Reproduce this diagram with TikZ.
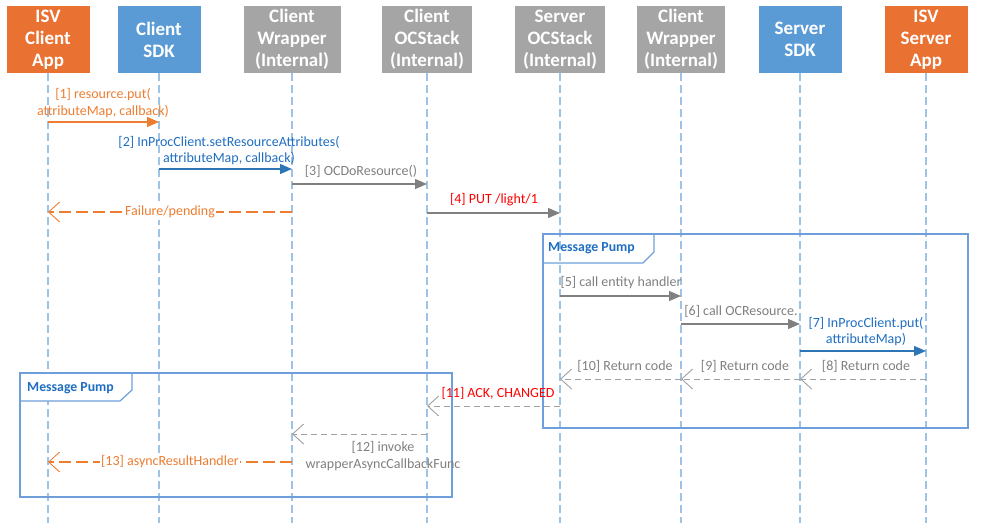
\documentclass[tikz,border=0pt]{standalone}
\usepackage{fontspec}
\setmainfont{Carlito}
\usetikzlibrary{arrows.meta}
\definecolor{boxorange}{HTML}{E97132}
\definecolor{boxblue}{HTML}{5B9BD5}
\definecolor{boxgray}{HTML}{A5A5A5}
\definecolor{txtorange}{HTML}{ED7D31}
\definecolor{txtblue}{HTML}{1F6EC1}
\definecolor{txtgray}{HTML}{7F7F7F}
\definecolor{txtred}{HTML}{FF0000}
\definecolor{lnblue}{HTML}{2E75B6}
\definecolor{lngray}{HTML}{808080}
\definecolor{lnret}{HTML}{A0A0A0}
\definecolor{lifeblue}{HTML}{9DC3E6}
\definecolor{frameblue}{HTML}{6E9FDA}
\tikzset{
  hdr/.style={draw=none, text=white, align=center, minimum height=67pt,
    inner sep=0pt, font=\bfseries\fontsize{19}{22}\selectfont},
  life/.style={draw=lifeblue, line width=1.2pt, dash pattern=on 8pt off 4pt},
  lbl/.style={align=center, inner sep=0pt, font=\fontsize{14}{16.5}\selectfont},
  msg/.style={line width=1.2pt, -{Triangle[length=12pt,width=10pt]}},
  ret/.style={line width=1pt, dash pattern=on 6pt off 4pt,
    -{Straight Barb[length=11pt,width=20pt,line width=0.9pt]}},
  retO/.style={line width=1.4pt, dash pattern=on 12pt off 5pt,
    -{Straight Barb[length=11pt,width=20pt,line width=0.9pt,sep=0pt]}},
  frm/.style={draw=frameblue, line width=1.2pt},
  frmtxt/.style={anchor=west, inner sep=0pt, text=txtblue,
    font=\bfseries\fontsize{13.8}{15}\selectfont}
}
\begin{document}
\begin{tikzpicture}[x=1pt,y=-1pt]
\useasboundingbox (0,0) rectangle (984,532);
% header boxes
\node[hdr, fill=boxorange, minimum width=83pt] (h1) at (48,39.5) {ISV\\Client\\App};
\node[hdr, fill=boxblue,   minimum width=83pt] (h2) at (159,39.5) {Client\\SDK};
\node[hdr, fill=boxgray,   minimum width=97pt] (h3) at (292,39.5) {Client\\Wrapper\\(Internal)};
\node[hdr, fill=boxgray,   minimum width=90pt] (h4) at (427,39.5) {Client\\OCStack\\(Internal)};
\node[hdr, fill=boxgray,   minimum width=90pt] (h5) at (560,39.5) {Server\\OCStack\\(Internal)};
\node[hdr, fill=boxgray,   minimum width=88pt] (h6) at (681,39.5) {Client\\Wrapper\\(Internal)};
\node[hdr, fill=boxblue,   minimum width=83pt] (h7) at (800,39.5) {Server\\SDK};
\node[hdr, fill=boxorange, minimum width=83pt] (h8) at (926,39.5) {ISV\\Server\\App};
% lifelines
\foreach \i in {1,...,8} {
  \coordinate (e\i) at (h\i.south |- 0,523);
  \draw[life] (h\i.south) -- (e\i);
}
% frame 1 (server message pump)
\draw[frm] (543,234) rectangle (968,428);
\draw[frm] (543,263) -- (643,263) -- (654,252) -- (654,234);
\node[frmtxt] (f1) at (548,248) {Message Pump};
% frame 2 (client message pump)
\draw[frm, fill=white] (20,401) -- (120,401) -- (132,390) -- (132,373) -- (20,373) -- cycle;
\draw[frm] (20,373) rectangle (452,497);
\node[frmtxt] (f2) at (27,388) {Message Pump};
% [1]
\draw[msg, txtorange] (h1 |- 0,122) -- (h2 |- 0,122);
\node[lbl, text=txtorange] (l1) at (103,103) {[1] resource.put(\\attributeMap, callback)};
% [2]
\draw[msg, lnblue] (h2 |- 0,169) -- (h3 |- 0,169);
\node[lbl, text=txtblue] (l2) at (229,150.5) {[2] InProcClient.setResourceAttributes(\\attributeMap, callback)};
% [3]
\draw[msg, lngray] (h3 |- 0,184) -- (h4 |- 0,184);
\node[lbl, text=txtgray] (l3) at (361,171) {[3] OCDoResource()};
% failure
\draw[retO, txtorange] (h3 |- 0,212) -- (h1 |- 0,212)
  node[pos=0.5, lbl, text=txtorange, fill=white, inner xsep=1pt, inner ysep=2pt] (lf) {Failure/pending};
% [4]
\draw[msg, lngray] (h4 |- 0,213) -- (h5 |- 0,213);
\node[lbl, text=txtred] (l4) at (494,200) {[4] PUT /light/1};
% [5]
\draw[msg, lngray] (h5 |- 0,296) -- (h6 |- 0,296);
\node[lbl, text=txtgray] (l5) at (621,283) {[5] call entity handler};
% [6]
\draw[msg, lngray] (h6 |- 0,324) -- (h7 |- 0,324);
\node[lbl, text=txtgray] (l6) at (741,311) {[6] call OCResource.};
% [7]
\draw[msg, lnblue] (h7 |- 0,351) -- (h8 |- 0,351);
\node[lbl, text=txtblue] (l7) at (866,331.5) {[7] InProcClient.put(\\attributeMap)};
% [8] [9] [10]
\draw[ret, lnret] (h8 |- 0,379) -- (h7 |- 0,379);
\node[lbl, text=txtgray] (l8) at (866,366) {[8] Return code};
\draw[ret, lnret] (h7 |- 0,379) -- (h6 |- 0,379);
\node[lbl, text=txtgray] (l9) at (745,366) {[9] Return code};
\draw[ret, lnret] (h6 |- 0,379) -- (h5 |- 0,379);
\node[lbl, text=txtgray] (l10) at (625,366) {[10] Return code};
% [11]
\draw[ret, lnret] (h5 |- 0,406) -- (h4 |- 0,406);
\node[lbl, text=txtred] (l11) at (498,393) {[11] ACK, CHANGED};
% [12]
\draw[ret, lnret] (h4 |- 0,434) -- (h3 |- 0,434);
\node[lbl, text=txtgray] (l12) at (383,456) {[12] invoke\\wrapperAsyncCallbackFunc};
% [13]
\draw[retO, txtorange] (h3 |- 0,462) -- (h1 |- 0,462)
  node[pos=0.5, lbl, text=txtorange, fill=white, inner xsep=1pt, inner ysep=2pt] (l13) {[13] asyncResultHandler};
\end{tikzpicture}
\end{document}
